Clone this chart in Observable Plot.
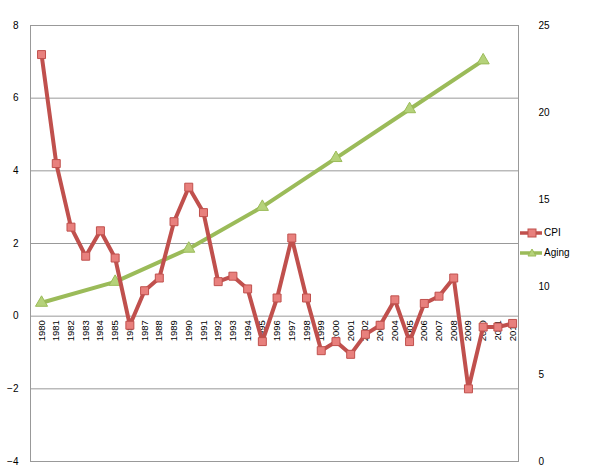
<!DOCTYPE html>
<html><head><meta charset="utf-8">
<script src="https://cdn.jsdelivr.net/npm/d3@7"></script>
<script src="https://cdn.jsdelivr.net/npm/@observablehq/plot@0.6"></script>
<style>body{margin:0;background:#fff;font-family:"Liberation Sans",Arial,sans-serif}#chart{position:relative;width:604px}
.lg{position:absolute;left:518px;font-size:10px;display:flex;align-items:center;gap:0}</style>
</head><body><div id="chart"></div>
<script>
const years = d3.range(1980, 2013);
const cpi = [7.2,4.2,2.45,1.65,2.35,1.6,-0.25,0.7,1.05,2.6,3.55,2.85,0.95,1.1,0.75,-0.7,0.5,2.15,0.5,-0.95,-0.7,-1.05,-0.5,-0.25,0.45,-0.7,0.35,0.55,1.05,-2.0,-0.3,-0.3,-0.2];
const agingYears = [1980,1985,1990,1995,2000,2005,2010];
const aging = [9.1,10.3,12.2,14.6,17.4,20.2,23.0];
const leftTicks = [-4,-2,0,2,4,6,8];
const rightTicks = [0,5,10,15,20,25];

const toLeft = v => -4 + v * 12 / 25;
const cpiData = years.map((y, i) => ({year: y, v: cpi[i]}));
const agingData = agingYears.map((y, i) => ({year: y, v: toLeft(aging[i])}));
const red = "#c0504d", green = "#9bbb59";

const chart = Plot.plot({
  width: 604, height: 468,
  marginLeft: 30, marginRight: 86, marginTop: 25, marginBottom: 7,
  x: {domain: [1979.25, 2012.4], axis: null},
  y: {domain: [-4, 8], axis: null},
  style: {fontSize: "10px", fontFamily: "Liberation Sans, Arial, sans-serif"},
  marks: [
    Plot.ruleY(leftTicks, {stroke: "#999", strokeWidth: 1}),
    Plot.axisY(leftTicks, {anchor: "left", tickSize: 0, tickPadding: 12, label: null}),
    Plot.axisY(rightTicks.map(toLeft), {anchor: "right", tickSize: 0, tickPadding: 20, label: null, tickFormat: d => Math.round((d + 4) * 25 / 12)}),
    Plot.frame({anchor: "left", stroke: "#999"}),
    Plot.frame({anchor: "right", stroke: "#999"}),
    Plot.text(years, {x: d => d, y: 0, text: d => String(d), rotate: -90, textAnchor: "end", dy: 4, fontSize: 9.5}),
    Plot.line(agingData, {x: "year", y: "v", stroke: green, strokeWidth: 4}),
    Plot.dot(agingData, {x: "year", y: "v", symbol: "triangle", r: 4.5, fill: "#b5d27a", stroke: green, strokeWidth: 1}),
    Plot.line(cpiData, {x: "year", y: "v", stroke: red, strokeWidth: 4}),
    Plot.dot(cpiData, {x: "year", y: "v", symbol: "square", r: 4.5, fill: "#e8807d", stroke: red, strokeWidth: 1})
  ]
});
const host = document.getElementById("chart");
host.append(chart);
const lg = (top, color, fill, shape, label) => {
  const d = document.createElement("div");
  d.className = "lg"; d.style.top = top + "px";
  d.innerHTML = `<svg width="26" height="10"><line x1="2" x2="24" y1="5" y2="5" stroke="${color}" stroke-width="3.5"/>${shape === "sq" ? `<rect x="10" y="1" width="8" height="8" fill="${fill}" stroke="${color}"/>` : `<path d="M14,1 L18,8 L10,8Z" fill="${fill}" stroke="${color}"/>`}</svg><span>${label}</span>`;
  host.append(d);
};
lg(227, red, "#e8807d", "sq", "CPI");
lg(247, green, "#b5d27a", "tri", "Aging");
</script></body></html>
